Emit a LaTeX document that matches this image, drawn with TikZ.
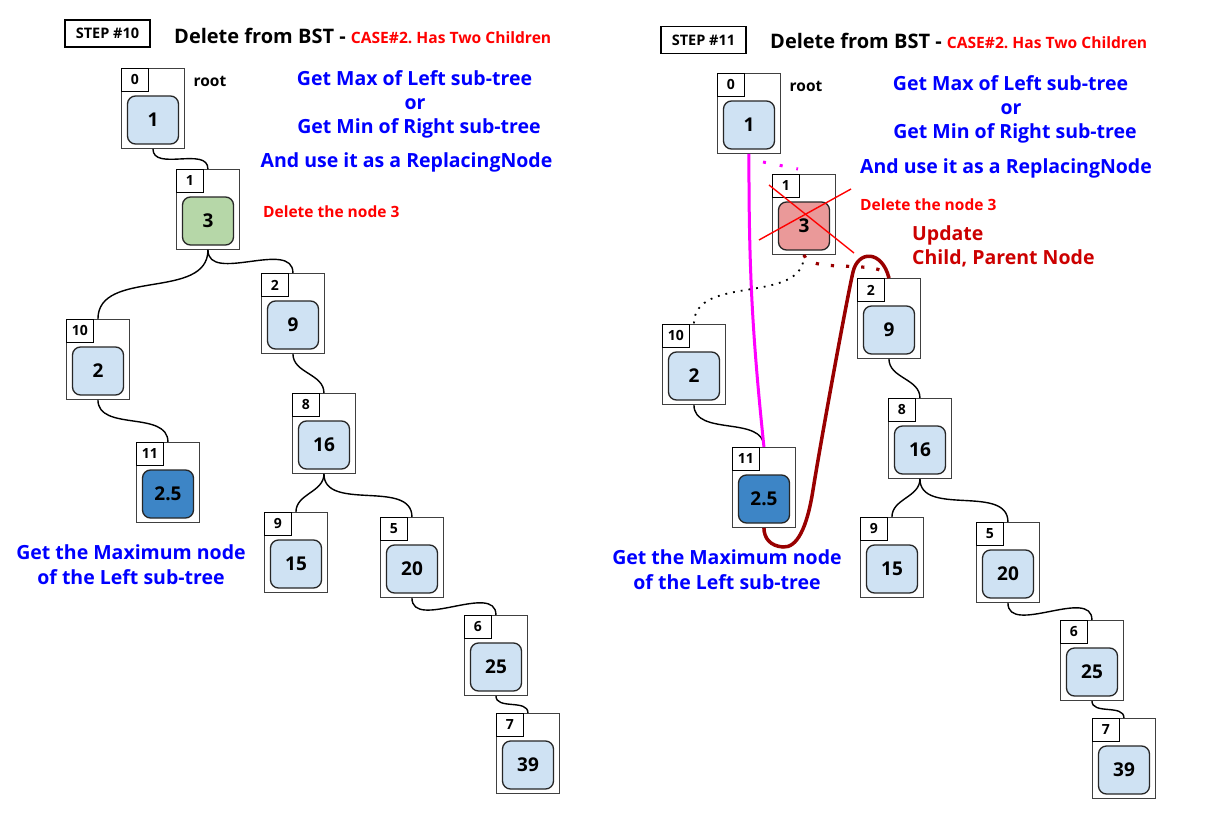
\documentclass[tikz,border=0pt]{standalone}
\usepackage{fontspec}
\setmainfont{Open Sans}
\usetikzlibrary{calc}
\definecolor{nblue}{HTML}{CFE2F3}
\definecolor{ngreen}{HTML}{B6D7A8}
\definecolor{nred}{HTML}{EA9999}
\definecolor{ndark}{HTML}{3D85C6}
\definecolor{dred}{HTML}{990000}
\definecolor{ured}{HTML}{CC0000}
\definecolor{mag}{HTML}{FF00FF}
\definecolor{tblue}{HTML}{0000FF}
\definecolor{tred}{HTML}{FF0000}
\newcommand\fs[1]{\bfseries\fontsize{#1}{#1}\selectfont}
\tikzset{
  outerbox/.style={anchor=north west, draw=black!75, line width=0.9pt, minimum width=63pt, minimum height=80pt, inner sep=0pt},
  idxbox/.style={anchor=north west, draw=black, line width=0.9pt, minimum width=27pt, minimum height=23pt, inner sep=0pt, font=\fs{14}},
  valbox/.style={draw=black!85, line width=1.3pt, rounded corners=8pt, minimum width=51pt, minimum height=48pt, inner sep=0pt, font=\fs{19}},
  conn/.style={draw=black, line width=1.4pt},
  stepbox/.style={draw=black, line width=1.1pt, minimum width=85pt, minimum height=27pt, inner sep=0pt, font=\fs{14.5}},
  bluetext/.style={text=tblue, font=\fs{19.5}, inner sep=0pt, text height=16pt, text depth=2pt},
  redsmall/.style={text=tred, font=\fs{15.5}, inner sep=0pt, anchor=west},
  updtext/.style={text=ured, font=\fs{19.5}, inner sep=0pt, anchor=west, text height=16pt, text depth=2pt},
  lbl/.style={font=\fs{15.5}, inner sep=0pt},
  titletext/.style={anchor=base west, inner sep=0pt},
}
\newcommand\bstnode[6]{%
  \node[outerbox] (#1) at (#2,#3) {};
  \node[idxbox] (#1i) at (#1.north west) {#4};
  \node[valbox, fill=#6] (#1v) at ($(#1.north west)+(32,52)$) {#5};
}
\newcommand\lnk[2]{\draw[conn] (#1.south) to[out=-90,in=90] (#2.north);}
\newcommand\ttl{\fs{20}Delete from BST - {\color{tred}\fs{15.6}CASE\#2. Has Two Children}}
\begin{document}
\frenchspacing
\begin{tikzpicture}[x=1pt,y=-1pt]
\useasboundingbox (0,0) rectangle (1227,817);
\fill[white] (0,0) rectangle (1227,817);

% ---------------- left panel ----------------
\node[stepbox] (ls) at (107.5,33.5) {STEP \#10};
\node[titletext] (lt) at (174,43) {\ttl};
\bstnode{a0}{121}{68}{0}{1}{nblue}
\bstnode{a1}{176}{169}{1}{3}{ngreen}
\bstnode{a10}{66}{319}{10}{2}{nblue}
\bstnode{a11}{136}{442}{11}{2.5}{ndark}
\bstnode{a2}{261}{273}{2}{9}{nblue}
\bstnode{a8}{292}{393}{8}{16}{nblue}
\bstnode{a9}{264}{512}{9}{15}{nblue}
\bstnode{a5}{380}{517}{5}{20}{nblue}
\bstnode{a6}{464}{615}{6}{25}{nblue}
\bstnode{a7}{496}{713}{7}{39}{nblue}
\lnk{a0}{a1}
\lnk{a1}{a10}
\lnk{a1}{a2}
\lnk{a10}{a11}
\lnk{a2}{a8}
\lnk{a8}{a9}
\lnk{a8}{a5}
\lnk{a5}{a6}
\lnk{a6}{a7}
\node[lbl] (lroot) at (210,81) {root};
\node[bluetext] (lq1) at (414.5,78) {Get Max of Left sub-tree};
\node[bluetext] (lq2) at (415,102) {or};
\node[bluetext] (lq3) at (419,126) {Get Min of Right sub-tree};
\node[bluetext] (lq4) at (406.5,160) {And use it as a ReplacingNode};
\node[redsmall] (ldel) at (263,212) {Delete the node 3};
\node[bluetext] (lmax1) at (131,552) {Get the Maximum node};
\node[bluetext] (lmax2) at (131,577) {of the Left sub-tree};

% ---------------- right panel ----------------
\node[stepbox] (rs) at (703.5,40) {STEP \#11};
\node[titletext] (rt) at (770,48) {\ttl};
\bstnode{b0}{717}{73}{0}{1}{nblue}
\bstnode{b1}{772}{174}{1}{3}{nred}
\bstnode{b10}{662}{324}{10}{2}{nblue}
\bstnode{b11}{732}{447}{11}{2.5}{ndark}
\bstnode{b2}{857}{278}{2}{9}{nblue}
\bstnode{b8}{888}{398}{8}{16}{nblue}
\bstnode{b9}{860}{517}{9}{15}{nblue}
\bstnode{b5}{976}{522}{5}{20}{nblue}
\bstnode{b6}{1060}{620}{6}{25}{nblue}
\bstnode{b7}{1092}{718}{7}{39}{nblue}
\lnk{b10}{b11}
\lnk{b2}{b8}
\lnk{b8}{b9}
\lnk{b8}{b5}
\lnk{b5}{b6}
\lnk{b6}{b7}
\node[lbl] (rroot) at (806,86) {root};
\node[bluetext] (rq1) at (1010.5,83) {Get Max of Left sub-tree};
\node[bluetext] (rq2) at (1011,107) {or};
\node[bluetext] (rq3) at (1015,131) {Get Min of Right sub-tree};
\node[bluetext] (rq4) at (1006,166) {And use it as a ReplacingNode};
\node[redsmall] (rdel) at (860,205) {Delete the node 3};
\node[updtext] (rupd1) at (912,233) {Update};
\node[updtext] (rupd2) at (912,257) {Child, Parent Node};
\node[bluetext] (rmax1) at (727,557) {Get the Maximum node};
\node[bluetext] (rmax2) at (727,582) {of the Left sub-tree};

% red cross over node 3
\coordinate (x1a) at (769,185);
\coordinate (x1b) at (854,253);
\coordinate (x2a) at (759,240);
\coordinate (x2b) at (851,189);
\draw[tred, line width=1.4pt] (x1a) -- (x1b);
\draw[tred, line width=1.4pt] (x2a) -- (x2b);
% magenta replacement link
\draw[mag, line width=3pt] (b0.south) to[bend right=3] (b11.north);
\coordinate (m1) at (763,162);
\coordinate (m2) at (798,169);
\draw[mag, line width=3pt, dash pattern=on 3pt off 14pt] (m1) -- (m2);
% old links, dotted
\draw[black, line width=1.8pt, dash pattern=on 1.8pt off 6pt] (b1.south) to[out=-90,in=90] (b10.north);
\draw[dred, line width=3.2pt, dash pattern=on 3.2pt off 12pt] (b1.south) to[out=-75,in=100, looseness=0.6] (b2.north);
% update curve
\draw[dred, line width=3.5pt] (b2.north) .. controls (882,250) and (858,250) .. (853,272)
  .. controls (847,298) and (821,440) .. (813,490)
  .. controls (807,528) and (797,548) .. (783,547)
  .. controls (770,546) and (764,538) .. (b11.south);
\end{tikzpicture}
\end{document}
